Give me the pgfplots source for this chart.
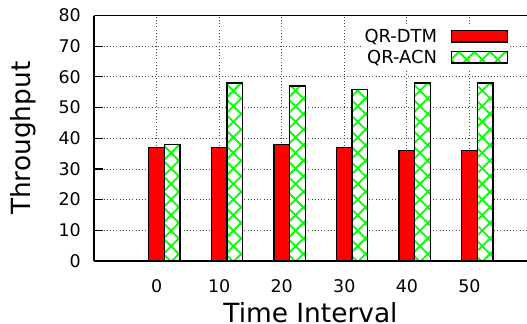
\documentclass[border=0pt]{standalone}
\usepackage{pgfplots}
\pgfplotsset{compat=1.18}
\usepackage{fontspec}
\setmainfont{DejaVu Sans}
\usetikzlibrary{patterns.meta}
\definecolor{qrred}{RGB}{255,0,0}
\definecolor{qrgreen}{RGB}{0,255,0}
\pgfplotsset{
  swatch/.style={legend image code/.code={\path (0bp,0bp); \draw[##1] (12bp,-5.7bp) rectangle (68bp,5.7bp);}},
}
\begin{document}
\begin{tikzpicture}
\path[use as bounding box] (-94bp,-63bp) rectangle (433bp,261bp);
\clip (-94bp,-63bp) rectangle (433bp,261bp);
\begin{axis}[
  at={(0,0)}, anchor=south west,
  scale only axis, width=433bp, height=245.5bp,
  xmin=-10, xmax=59.2, ymin=0, ymax=80,
  axis x line*=box, axis y line*=left,
  axis line style={line width=1.5bp, black},
  xtick={0,10,20,30,40,50}, ytick={0,10,20,30,40,50,60,70,80},
  tick align=inside, major tick length=9bp,
  xtick pos=left, ytick pos=left,
  tick style={black, line width=1.2bp},
  grid=major,
  grid style={black!70, line width=0.8bp, dash pattern=on 1bp off 2.2bp},
  /pgf/number format/assume math mode=true,
  tick label style={font=\fontsize{17.5}{19}\selectfont, inner sep=0pt},
  yticklabel shift=13bp, xticklabel shift=18bp,
  xlabel={Time Interval}, ylabel={Throughput},
  label style={font=\fontsize{26.5}{30}\selectfont},
  xlabel style={at={(axis description cs:0.5,-0.2525)}, anchor=base},
  ylabel style={at={(axis description cs:-0.164,0.5)}, anchor=center},
  legend style={at={(rel axis cs:0.962,0.962)}, anchor=north east, draw=none, fill=white,
    font=\fontsize{18}{19}\selectfont, row sep=2bp, inner sep=2bp},
  legend cell align=right, legend plot pos=right,
]
\addplot[ybar, bar width=2.5, bar shift=0, draw=black, line width=1.3bp, fill=qrred, swatch]
  coordinates {(0,37) (10,37) (20,38) (30,37) (40,36) (50,36)};
\addlegendentry{QR-DTM}
\addplot[ybar, bar width=2.5, bar shift=2.5, draw=black, line width=1.3bp, fill=none,
  preaction={fill=white},
  preaction={pattern={Lines[angle=45,distance=11bp,line width=1.8bp]}, pattern color=qrgreen},
  preaction={pattern={Lines[angle=-45,distance=11bp,line width=1.8bp]}, pattern color=qrgreen},
  swatch]
  coordinates {(0,38) (10,58) (20,57) (30,56) (40,58) (50,58)};
\addlegendentry{QR-ACN}
\end{axis}
\end{tikzpicture}
\end{document}
